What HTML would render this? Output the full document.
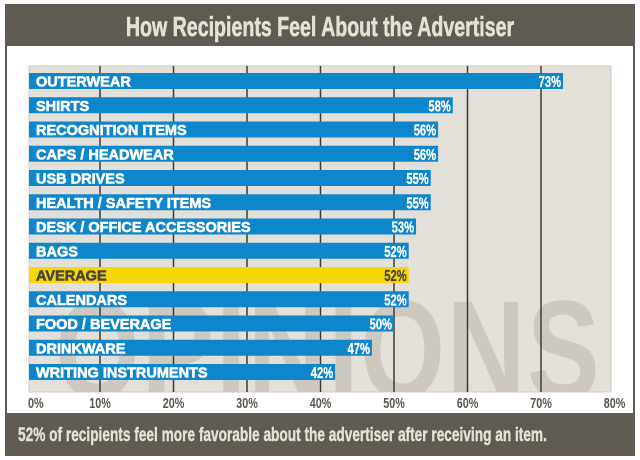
<!DOCTYPE html>
<html><head><meta charset="utf-8"><style>
body{margin:0;background:#fff;width:640px;height:460px;overflow:hidden}
svg{display:block}
</style></head><body>
<svg id="chart" width="640" height="460" viewBox="0 0 640 460" font-family="Liberation Sans, sans-serif">
<defs><clipPath id="plotclip"><rect x="29" y="66" width="582" height="326"/></clipPath></defs>
<rect x="6" y="5" width="628" height="450" fill="#fff" stroke="#5f5b53" stroke-width="2"/>
<rect x="6" y="5" width="628" height="41" fill="#5f5b53"/>
<text transform="translate(320,36) scale(0.7,1)" text-anchor="middle" font-size="28" font-weight="bold" fill="#e6e1d5" stroke="#e6e1d5" stroke-width="0.6">How Recipients Feel About the Advertiser</text>
<rect x="29" y="66" width="582" height="326" fill="#e3e0da" stroke="#cfcbc3"/>
<g clip-path="url(#plotclip)">
<text transform="translate(55,398) scale(0.78,1)" font-size="140" font-weight="bold" fill="#cdc9c1" letter-spacing="2">OPINIONS</text>
</g>
<g id="grid"></g>
<g id="bars"></g>
<g id="ticks"></g>
<rect x="6" y="413" width="628" height="42" fill="#5f5b53"/>
<text transform="translate(18,441) scale(0.72,1)" font-size="19" font-weight="bold" fill="#e6e1d5" stroke="#e6e1d5" stroke-width="0.4">52% of recipients feel more favorable about the advertiser after receiving an item.</text>
</svg>
<script>
const categories=["OUTERWEAR","SHIRTS","RECOGNITION ITEMS","CAPS / HEADWEAR","USB DRIVES","HEALTH / SAFETY ITEMS","DESK / OFFICE ACCESSORIES","BAGS","AVERAGE","CALENDARS","FOOD / BEVERAGE","DRINKWARE","WRITING INSTRUMENTS"];
const values=[73,58,56,56,55,55,53,52,52,52,50,47,42];
const tickValues=[0,10,20,30,40,50,60,70,80];
const tickLabels=["0%","10%","20%","30%","40%","50%","60%","70%","80%"];
const NS="http://www.w3.org/2000/svg";
const x=v=>26.5+v*7.35;
const yc=i=>81+i*24.25;
function mk(tag,attrs,parent,txt){const e=document.createElementNS(NS,tag);for(const k in attrs)e.setAttribute(k,attrs[k]);if(txt!==undefined)e.textContent=txt;parent.appendChild(e);return e;}
const grid=document.getElementById('grid'),bars=document.getElementById('bars'),ticks=document.getElementById('ticks');
tickValues.forEach((t,i)=>{
  if(t>0&&t<80){const l=mk('line',{x1:x(t),x2:x(t),y1:66,y2:392,stroke:'#3d3a35','stroke-width':1.5},grid);
  
  }
  const tx=mk('text',{transform:`translate(${i==0?28:x(t)},408) scale(0.72,1)`,'text-anchor':i==0?'start':'middle','font-size':15,'font-weight':'bold',fill:'#5a5650'},ticks,tickLabels[i]);
  
  
});
categories.forEach((c,i)=>{
  const avg=c==="AVERAGE";
  const r=mk('rect',{x:29,y:yc(i)-8,width:x(values[i])-29,height:16,fill:avg?'#f7d708':'#0e86cc'},bars);
  
  
  const col=avg?'#4a463e':'#fff';
  const lt=mk('text',{x:36,y:yc(i)+5.5,'font-size':14.5,'font-weight':'bold',fill:col,stroke:col,'stroke-width':0.6},bars,c);
  
  
  const vt=mk('text',{transform:`translate(${x(values[i])-2},${yc(i)+6}) scale(0.7,1)`,'text-anchor':'end','font-size':16,'font-weight':'bold',fill:col,stroke:col,'stroke-width':0.3},bars,values[i]+'%');
  
  
});
</script>
</body></html>
